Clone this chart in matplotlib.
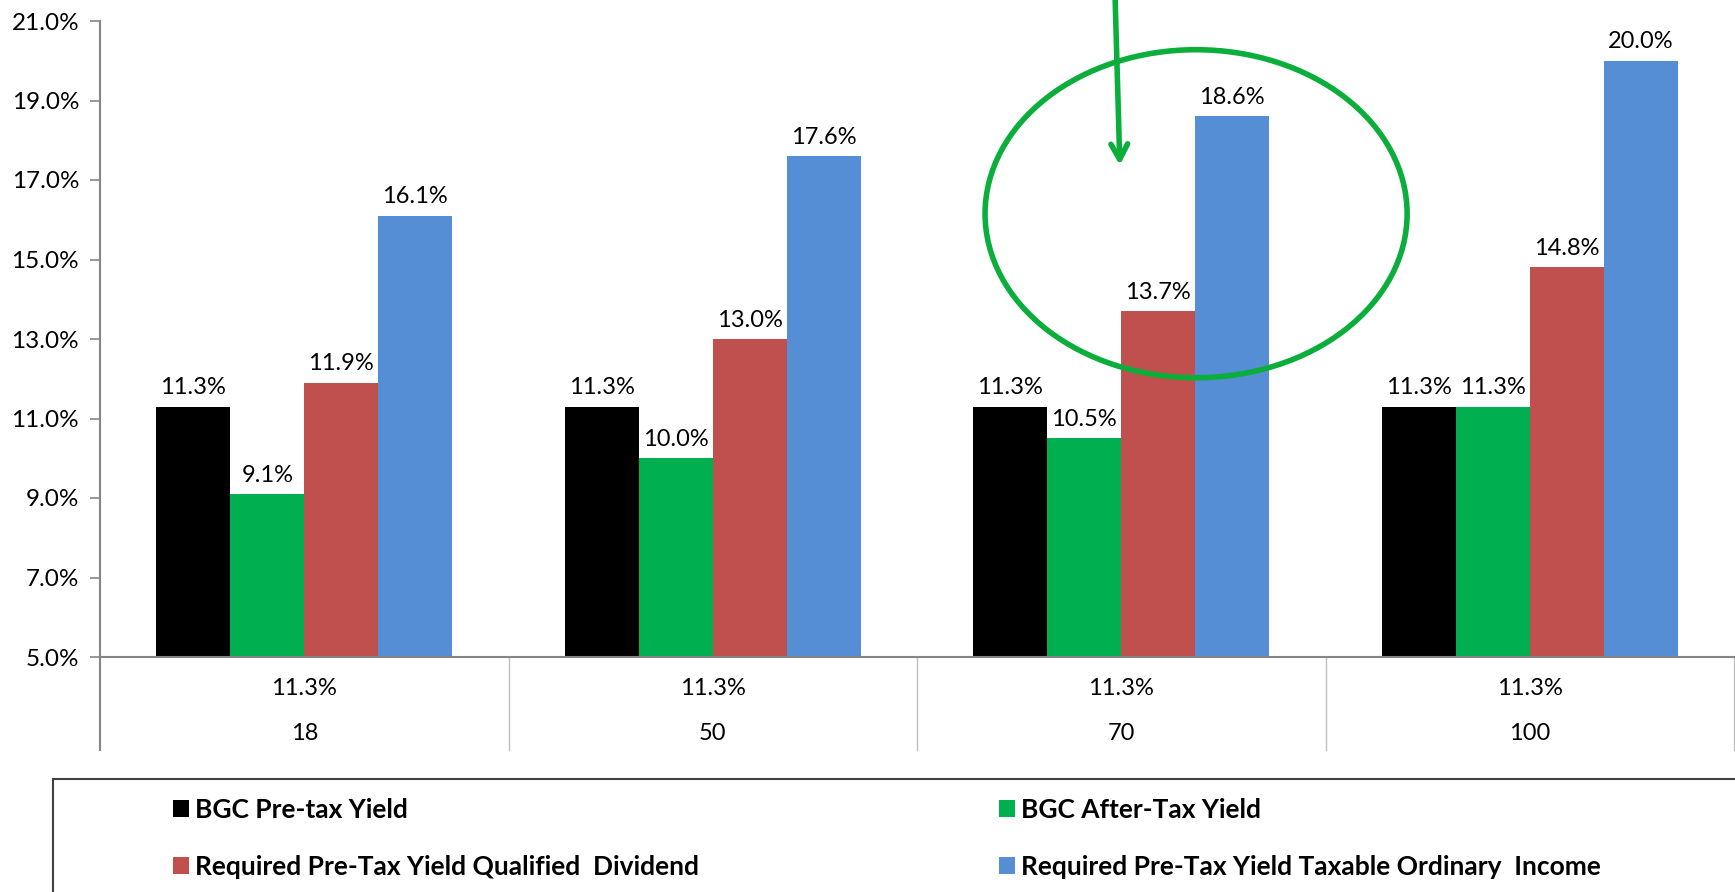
import matplotlib.pyplot as plt
from matplotlib.patches import Ellipse, Rectangle
import numpy as np

# === Data ===
ages = ["18", "50", "70", "100"]
pre_tax_row = ["11.3%", "11.3%", "11.3%", "11.3%"]
bgc_pre_tax = [11.3, 11.3, 11.3, 11.3]
bgc_after_tax = [9.1, 10.0, 10.5, 11.3]
req_qualified = [11.9, 13.0, 13.7, 14.8]
req_ordinary = [16.1, 17.6, 18.6, 20.0]

series_names = ["BGC Pre-tax Yield", "BGC After-Tax Yield",
                "Required Pre-Tax Yield Qualified  Dividend",
                "Required Pre-Tax Yield Taxable Ordinary  Income"]
series_colors = ["#000000", "#00B050", "#C0504D", "#558ED5"]
y_ticks = [5, 7, 9, 11, 13, 15, 17, 19, 21]

plt.rcParams['font.family'] = ['Lato', 'DejaVu Sans']
axis_gray = "#868686"

fig = plt.figure(figsize=(17.35, 8.92), dpi=100)
ax = fig.add_axes([100 / 1735, 1 - 657 / 892, 1634 / 1735, 636 / 892])

# === Bars ===
x = np.arange(len(ages))
bar_w = 0.181
all_series = [bgc_pre_tax, bgc_after_tax, req_qualified, req_ordinary]
handles = []
for i, (vals, col, name) in enumerate(zip(all_series, series_colors, series_names)):
    offs = (i - 1.5) * bar_w
    bars = ax.bar(x + offs, vals, width=bar_w, color=col, label=name, zorder=2)
    ax.bar_label(bars, labels=[f"{v:.1f}%" for v in vals], padding=6, fontsize=17)
    handles.append(bars)

ax.set_xlim(-0.5, 3.5)
ax.set_ylim(5, 21)
ax.set_yticks(y_ticks)
ax.set_yticklabels([f"{t:.1f}%" for t in y_ticks], fontsize=17.5)
ax.tick_params(axis='y', direction='out', length=7, width=1.2, color=axis_gray, pad=8)
ax.tick_params(axis='x', length=0, labelbottom=False)

for s in ['top', 'right']:
    ax.spines[s].set_visible(False)
for s in ['left', 'bottom']:
    ax.spines[s].set_color(axis_gray)
    ax.spines[s].set_linewidth(1.5)

# === Two-row category axis ===
trans = ax.get_xaxis_transform()
for xi, r1, r2 in zip(x, pre_tax_row, ages):
    ax.text(xi, -0.05, r1, transform=trans, ha='center', va='center', fontsize=17)
    ax.text(xi, -0.121, r2, transform=trans, ha='center', va='center', fontsize=17)
for xs in np.arange(-0.5, 4.0, 1.0):
    lw = 1.5 if xs == -0.5 else 1.0
    ax.plot([xs, xs], [0, -0.146], transform=trans, color=axis_gray if xs == -0.5 else "#BFBFBF",
            lw=lw, clip_on=False)

# === Annotation: ellipse + arrow ===
green = "#0BAE3A"
ax.add_patch(Ellipse((0.6708, 0.697), 0.2583, 0.5157, transform=ax.transAxes,
                     fill=False, edgecolor=green, lw=4, clip_on=False, zorder=5))
ax.annotate("", xy=(0.6242, 0.769), xytext=(0.6212, 1.04),
            xycoords='axes fraction', textcoords='axes fraction',
            arrowprops=dict(arrowstyle="->,head_length=1.1,head_width=0.6",
                            color=green, lw=4), annotation_clip=False)

# === Legend box ===
fig.patches.append(Rectangle((53 / 1735, -0.05), 1.1, (892 - 779) / 892 + 0.05,
                             transform=fig.transFigure, fill=False,
                             edgecolor="#404040", lw=1.5))

leg_kw = dict(frameon=False, handlelength=0.62, handleheight=0.62,
              handletextpad=0.2, labelspacing=1.25, borderpad=0, borderaxespad=0,
              loc='upper left', prop={'weight': 'bold', 'size': 19})
leg1 = fig.legend([handles[0], handles[2]], [series_names[0], series_names[2]],
                  bbox_to_anchor=(173 / 1735, 1 - 798 / 892), **leg_kw)
leg2 = fig.legend([handles[1], handles[3]], [series_names[1], series_names[3]],
                  bbox_to_anchor=(999 / 1735, 1 - 798 / 892), **leg_kw)

plt.savefig("out.png", dpi=100)
